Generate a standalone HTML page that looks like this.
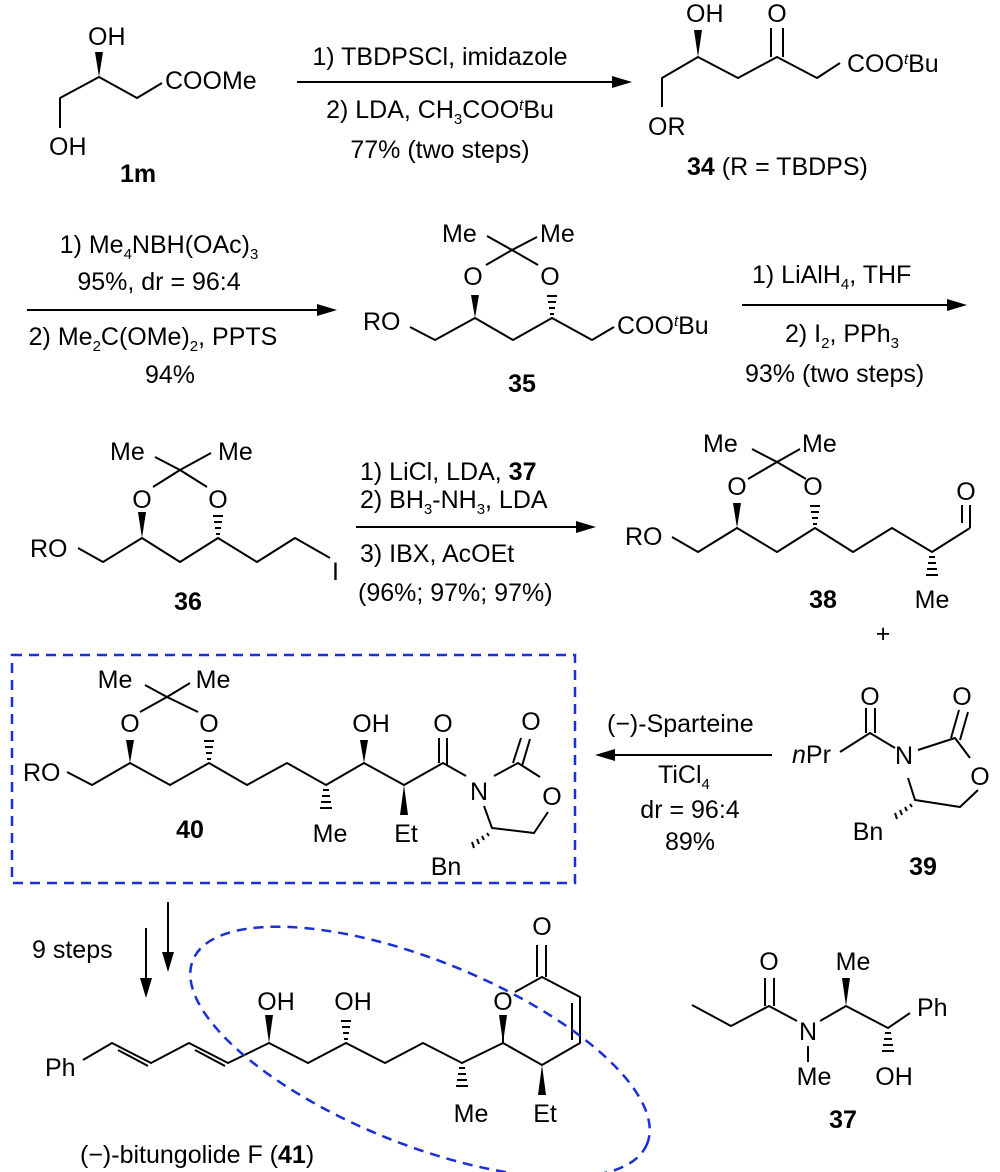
<!DOCTYPE html>
<html><head><meta charset="utf-8"><style>
html,body{margin:0;padding:0;background:#fff;}
svg{display:block;}
text{font-family:"Liberation Sans",Arial,sans-serif;font-size:25px;fill:#000;}
.b{font-weight:bold;}
.m{text-anchor:middle;}
.s{font-size:15px;}
</style></head><body>
<svg width="1000" height="1172" viewBox="0 0 1000 1172" xmlns="http://www.w3.org/2000/svg">
<g stroke="#000" stroke-width="2" fill="none" stroke-linejoin="round">
<!-- 1m -->
<polyline points="60,128 60,98 99,77 137,98 162,83"/>
<!-- arrow1 -->
<line x1="297" y1="82" x2="618" y2="82"/>
<!-- 34 -->
<polyline points="662,107 662,78 698,57 738,78 777,57 817,78 840,63"/>
<line x1="771" y1="57" x2="771" y2="28"/><line x1="783" y1="57" x2="783" y2="28"/>
<!-- arrow2 -->
<line x1="27" y1="310" x2="320" y2="310"/>
<!-- 35 -->
<polyline points="410,327 435,340 475,318 513,340 552,318 592,340 614,327"/>
<line x1="512" y1="250" x2="487" y2="236"/><line x1="512" y1="250" x2="537" y2="237"/>
<line x1="512" y1="250" x2="486" y2="265"/><line x1="512" y1="250" x2="538" y2="265"/>
<!-- arrow3 -->
<line x1="742" y1="305" x2="952" y2="305"/>
<!-- 36 -->
<polyline points="78,548 103,562 142,538 180,562 218,538 257,562 295,538 330,558"/>
<line x1="180" y1="470" x2="155" y2="457"/><line x1="180" y1="470" x2="211" y2="453"/>
<line x1="180" y1="470" x2="153" y2="487"/><line x1="180" y1="470" x2="207" y2="487"/>
<!-- arrow4 -->
<line x1="356" y1="527" x2="580" y2="527"/>
<!-- 38 -->
<polyline points="672,537 698,552 737,528 777,552 815,528 853,552 892,528 932,552 970,528"/>
<line x1="970" y1="528" x2="970" y2="505"/><line x1="962" y1="523" x2="962" y2="505"/>
<line x1="777" y1="462" x2="752" y2="449"/><line x1="777" y1="462" x2="800" y2="449"/>
<line x1="777" y1="462" x2="748" y2="479"/><line x1="777" y1="462" x2="806" y2="479"/>
<!-- arrow5 left -->
<line x1="772" y1="755" x2="610" y2="755"/>
<!-- 39 -->
<polyline points="840,752 870,733 895,748"/>
<line x1="866" y1="733" x2="866" y2="708"/><line x1="875" y1="733" x2="875" y2="708"/>
<polyline points="918,750 955,738 970,758"/>
<line x1="951" y1="738" x2="959" y2="710"/><line x1="960" y1="740" x2="968" y2="712"/>
<polyline points="978,790 960,807 915,800 908,778"/>
<!-- 40 -->
<polyline points="67,772 92,785 130,763 170,785 209,763 247,785 287,763 326,785 364,763 404,785 443,763 466,776"/>
<line x1="167" y1="697" x2="145" y2="685"/><line x1="167" y1="697" x2="190" y2="683"/>
<line x1="167" y1="697" x2="140" y2="712"/><line x1="167" y1="697" x2="198" y2="712"/>
<line x1="439" y1="763" x2="439" y2="738"/><line x1="447" y1="766" x2="447" y2="738"/>
<polyline points="494,776 518,763 540,777"/>
<line x1="513" y1="763" x2="521" y2="738"/><line x1="522" y1="766" x2="530" y2="739"/>
<polyline points="548,812 534,833 492,828 484,806"/>
<!-- down arrows -->
<line x1="168" y1="902" x2="168" y2="958"/>
<line x1="146" y1="928" x2="146" y2="984"/>
<!-- 41 -->
<polyline points="83,1060 112,1043 151,1063 189,1043 228,1063 269,1043 308,1063 346,1043 385,1063 423,1043 462,1063 503,1043 542,1065 580,1043 580,997 542,977 515,992"/>
<line x1="503" y1="1043" x2="503" y2="1015"/>
<line x1="118" y1="1050" x2="148" y2="1066"/>
<line x1="195" y1="1050" x2="225" y2="1066"/>
<line x1="572" y1="1040" x2="572" y2="1003"/>
<line x1="537" y1="977" x2="537" y2="945"/><line x1="546" y1="977" x2="546" y2="945"/>
<!-- 37 -->
<polyline points="692,1005 731,1026 769,1006 797,1021"/>
<line x1="765" y1="1006" x2="765" y2="978"/><line x1="774" y1="1006" x2="774" y2="978"/>
<line x1="808" y1="1046" x2="808" y2="1062"/>
<polyline points="820,1021 846,1006 888,1028 910,1013"/>
</g>
<!-- arrowheads -->
<g fill="#000">
<polygon points="632,82 612,76 612,88"/>
<polygon points="337,310 317,304 317,316"/>
<polygon points="967,305 947,299 947,311"/>
<polygon points="596,527 576,521 576,533"/>
<polygon points="595,755 615,749 615,761"/>
<polygon points="168,972 162,952 174,952"/>
<polygon points="146,998 140,978 152,978"/>
<!-- wedges -->
<polygon points="99,77 95,52 103,52"/>
<polygon points="698,57 694,30 702,30"/>
<polygon points="475,318 471,295 479,295"/>
<polygon points="142,538 138,512 146,512"/>
<polygon points="737,528 733,503 741,503"/>
<polygon points="130,763 126,740 134,740"/>
<polygon points="364,763 360,740 368,740"/>
<polygon points="404,785 400,815 408,815"/>
<polygon points="269,1043 265,1015 273,1015"/>
<polygon points="503,1043 499,1015 507,1015"/>
<polygon points="542,1065 538,1095 546,1095"/>
<polygon points="846,1006 842,978 850,978"/>
</g>
<!-- hashes -->
<g stroke="#000" stroke-width="2">
<path d="M550,314h4M549,308h6M548,302h8M547,296h10"/>
<path d="M216,534h4M215,528h6M214,522h8M213,516h10"/>
<path d="M813,524h4M812,518h6M811,512h8M810,506h10"/>
<path d="M929,557h6M928,563h8M927,569h10M926,575h12"/>
<path d="M207,759h4M206,753h6M205,747h8M204,741h10"/>
<path d="M323,790h6M322,796h8M321,802h10M320,808h12"/>
<path d="M487,833l2,3M482,836l2,4M477,839l2,5M472,842l2,6"/>
<path d="M910,804l2,3M905,807l2,4M900,810l2,5M895,813l2,6"/>
<path d="M344,1039h4M343,1033h6M342,1027h8M341,1021h10"/>
<path d="M459,1068h6M458,1074h8M457,1080h10M456,1086h12"/>
<path d="M885,1033h6M884,1039h8M883,1045h10M882,1051h12"/>
</g>
<!-- dashed blue -->
<rect x="12" y="655" width="563" height="228" fill="none" stroke="#1a2fd6" stroke-width="2.5" stroke-dasharray="10,7"/>
<ellipse cx="420" cy="1052" rx="245" ry="92" transform="rotate(22 420 1052)" fill="none" stroke="#1a2fd6" stroke-width="2.5" stroke-dasharray="10,7"/>

<!-- texts -->
<text x="88" y="45">OH</text>
<text x="165" y="89">COOMe</text>
<text x="49" y="155">OH</text>
<text x="120" y="182" class="b">1m</text>
<text x="440" y="65" class="m">1) TBDPSCl, imidazole</text>
<text x="440" y="118" class="m">2) LDA, CH<tspan class="s" dy="6">3</tspan><tspan dy="-6">COO</tspan><tspan font-style="italic" class="s" dy="-8">t</tspan><tspan dy="8">Bu</tspan></text>
<text x="440" y="158" class="m">77% (two steps)</text>

<text x="686" y="22">OH</text>
<text x="777" y="22" class="m">O</text>
<text x="847" y="72">COO<tspan font-style="italic" class="s" dy="-8">t</tspan><tspan dy="8">Bu</tspan></text>
<text x="648" y="135">OR</text>
<text x="687" y="175"><tspan class="b">34</tspan> (R = TBDPS)</text>

<text x="159" y="253" class="m">1) Me<tspan class="s" dy="6">4</tspan><tspan dy="-6">NBH(OAc)</tspan><tspan class="s" dy="6">3</tspan></text>
<text x="159" y="290" class="m">95%, dr = 96:4</text>
<text x="153" y="345" class="m">2) Me<tspan class="s" dy="6">2</tspan><tspan dy="-6">C(OMe)</tspan><tspan class="s" dy="6">2</tspan><tspan dy="-6">, PPTS</tspan></text>
<text x="170" y="383" class="m">94%</text>

<text x="442" y="242">Me</text>
<text x="540" y="242">Me</text>
<text x="473" y="285" class="m">O</text>
<text x="550" y="285" class="m">O</text>
<text x="363" y="330">RO</text>
<text x="617" y="334">COO<tspan font-style="italic" class="s" dy="-8">t</tspan><tspan dy="8">Bu</tspan></text>
<text x="522" y="392" class="m b">35</text>

<text x="752" y="283">1) LiAlH<tspan class="s" dy="6">4</tspan><tspan dy="-6">, THF</tspan></text>
<text x="785" y="342">2) I<tspan class="s" dy="6">2</tspan><tspan dy="-6">, PPh</tspan><tspan class="s" dy="6">3</tspan></text>
<text x="745" y="382">93% (two steps)</text>

<text x="110" y="460">Me</text>
<text x="218" y="460">Me</text>
<text x="142" y="508" class="m">O</text>
<text x="218" y="508" class="m">O</text>
<text x="30" y="557">RO</text>
<text x="332" y="580">I</text>
<text x="188" y="610" class="m b">36</text>

<text x="360" y="480">1) LiCl, LDA, <tspan class="b">37</tspan></text>
<text x="360" y="508">2) BH<tspan class="s" dy="6">3</tspan><tspan dy="-6">-NH</tspan><tspan class="s" dy="6">3</tspan><tspan dy="-6">, LDA</tspan></text>
<text x="360" y="562">3) IBX, AcOEt</text>
<text x="358" y="601">(96%; 97%; 97%)</text>

<text x="703" y="452">Me</text>
<text x="802" y="452">Me</text>
<text x="737" y="495" class="m">O</text>
<text x="813" y="495" class="m">O</text>
<text x="625" y="545">RO</text>
<text x="966" y="500" class="m">O</text>
<text x="823" y="608" class="m b">38</text>
<text x="932" y="608" class="m">Me</text>
<text x="883" y="642" class="m">+</text>

<text x="607" y="732">(−)-Sparteine</text>
<text x="658" y="783">TiCl<tspan class="s" dy="6">4</tspan></text>
<text x="690" y="818" class="m">dr = 96:4</text>
<text x="690" y="850" class="m">89%</text>

<text x="792" y="763"><tspan font-style="italic">n</tspan>Pr</text>
<text x="870" y="705" class="m">O</text>
<text x="962" y="705" class="m">O</text>
<text x="904" y="764" class="m">N</text>
<text x="980" y="785" class="m">O</text>
<text x="868" y="840" class="m">Bn</text>
<text x="923" y="875" class="m b">39</text>

<text x="115" y="688" class="m">Me</text>
<text x="213" y="688" class="m">Me</text>
<text x="130" y="732" class="m">O</text>
<text x="209" y="732" class="m">O</text>
<text x="23" y="781">RO</text>
<text x="371" y="732" class="m">OH</text>
<text x="443" y="732" class="m">O</text>
<text x="531" y="730" class="m">O</text>
<text x="479" y="800" class="m">N</text>
<text x="552" y="805" class="m">O</text>
<text x="190" y="838" class="m b">40</text>
<text x="330" y="842" class="m">Me</text>
<text x="406" y="842" class="m">Et</text>
<text x="446" y="875" class="m">Bn</text>

<text x="32" y="958">9 steps</text>
<text x="45" y="1076">Ph</text>
<text x="276" y="1010" class="m">OH</text>
<text x="353" y="1010" class="m">OH</text>
<text x="503" y="1010" class="m">O</text>
<text x="542" y="935" class="m">O</text>
<text x="471" y="1122" class="m">Me</text>
<text x="545" y="1122" class="m">Et</text>
<text x="80" y="1163">(−)-bitungolide F (<tspan class="b">41</tspan>)</text>

<text x="769" y="970" class="m">O</text>
<text x="808" y="1040" class="m">N</text>
<text x="853" y="970" class="m">Me</text>
<text x="917" y="1016">Ph</text>
<text x="814" y="1085" class="m">Me</text>
<text x="894" y="1085" class="m">OH</text>
<text x="843" y="1128" class="m b">37</text>
</svg>
</body></html>
